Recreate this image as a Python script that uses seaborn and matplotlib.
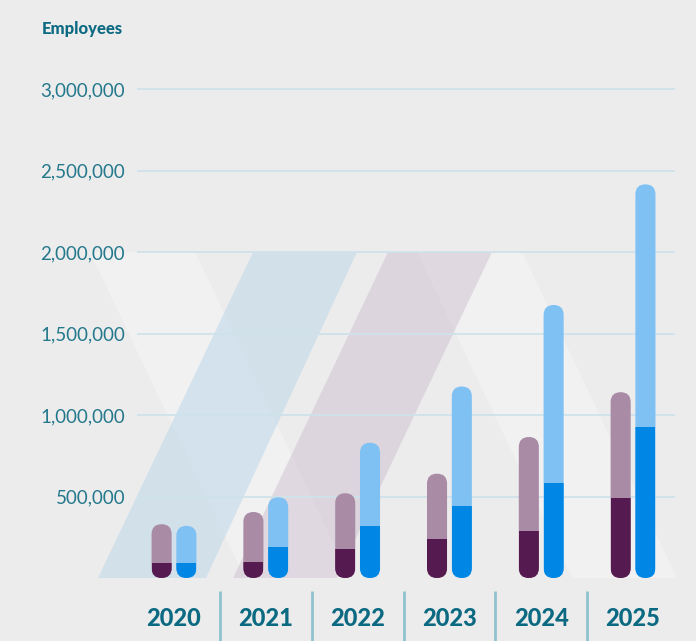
import numpy as np
import pandas as pd
import matplotlib
matplotlib.use("Agg")
import matplotlib.pyplot as plt
import seaborn as sns
from matplotlib.patches import FancyBboxPatch, Polygon, BoxStyle

# ---------------- data ----------------
years = ["2020", "2021", "2022", "2023", "2024", "2025"]
series = ["Series 1", "Series 2"]
s1_total = [330000, 405000, 520000, 640000, 865000, 1140000]
s1_base = [95000, 100000, 180000, 240000, 290000, 490000]
s2_total = [320000, 495000, 830000, 1175000, 1675000, 2415000]
s2_base = [95000, 190000, 320000, 440000, 585000, 925000]
yticks = [500000, 1000000, 1500000, 2000000, 2500000, 3000000]
title = "Employees"

light_colors = ["#a98ba6", "#80c1f3"]
dark_colors = ["#551a50", "#0087e5"]
bg = "#ececec"
teal_dark = "#0b6a82"
teal_light = "#24788c"

sns.set_theme(style="white")
plt.rcParams["font.family"] = ["Lato", "DejaVu Sans"]

fig = plt.figure(figsize=(6.96, 6.41), dpi=100, facecolor=bg)
ax = fig.add_axes([137 / 696, 63 / 641, 538 / 696, 505.3 / 641])
ax.set_facecolor("none")

df = pd.DataFrame({
    "year": years * 2,
    "series": [series[0]] * len(years) + [series[1]] * len(years),
    "total": s1_total + s2_total,
    "base": s1_base + s2_base,
})

sns.barplot(data=df, x="year", y="total", hue="series", hue_order=series,
            palette=light_colors, width=0.54, gap=0.19, saturation=1,
            errorbar=None, legend=False, linewidth=0, ax=ax)
n_light = len(ax.patches)
sns.barplot(data=df, x="year", y="base", hue="series", hue_order=series,
            palette=dark_colors, width=0.54, gap=0.19, saturation=1,
            errorbar=None, legend=False, linewidth=0, ax=ax)

ax.set_xlim(-0.403, 5.457)
ax.set_ylim(0, 3.1e6)

# aspect for circular rounding in display space
p0 = ax.transData.transform((0, 0))
p1 = ax.transData.transform((1, 1e6))
aspect = (p1[0] - p0[0]) * 1e6 / (p1[1] - p0[1])

patches = list(ax.patches)
light = patches[:n_light]
dark = patches[n_light:]
pills = {}
for r in light:
    x, w, h = r.get_x(), r.get_width(), r.get_height()
    pill = FancyBboxPatch((x, 0), w, h,
                          boxstyle=BoxStyle.Round(pad=0, rounding_size=w / 2),
                          mutation_aspect=aspect, facecolor=r.get_facecolor(),
                          edgecolor="none", zorder=2)
    ax.add_patch(pill)
    pills[round(x + w / 2, 3)] = pill
    r.remove()
for r in dark:
    key = round(r.get_x() + r.get_width() / 2, 3)
    r.set_clip_path(pills[key])
    r.set_zorder(3)
    r.set_linewidth(0)

# decorative background bands (top at 2,000,000 level, bottom at 0)
top = 2.0e6
bands = [
    ("white", 0.3, (-0.915, 0.229), (0.773, 1.917)),
    ("white", 0.3, (2.647, 3.791), (4.336, 5.479)),
    ("#b9d5ea", 0.5, (0.861, 1.993), (-0.828, 0.349)),
    ("#cec0d0", 0.5, (2.331, 3.464), (0.643, 1.776)),
]
for col, a, (tl, tr), (bl, br) in bands:
    poly = Polygon([(tl, top), (tr, top), (br, 0), (bl, 0)], closed=True,
                   facecolor=col, edgecolor="none", alpha=a, zorder=0.1,
                   clip_on=False)
    ax.add_patch(poly)

# grid & ticks
ax.set_axisbelow(True)
ax.yaxis.grid(True, color="#cfe2ea", linewidth=1.3)
ax.xaxis.grid(False)
ax.set_yticks(yticks)
ax.set_yticklabels([f"{v:,}" for v in yticks], fontsize=13.5, fontweight="normal",
                   color=teal_light)
ax.set_xticks(range(len(years)))
ax.set_xticklabels(years, fontsize=17, fontweight="black", color=teal_dark)
ax.tick_params(axis="y", length=0, pad=8.6, labelcolor=teal_light)
ax.tick_params(axis="x", length=0, pad=21, labelcolor=teal_dark)
ax.set_xlabel("")
ax.set_ylabel("")
for s in ax.spines.values():
    s.set_visible(False)

# separators between years
for i in range(len(years) - 1):
    ax.plot([i + 0.5, i + 0.5], [-80000, -420000], color="#8fc3ce", lw=2,
            clip_on=False, solid_capstyle="butt")

fig.text(42 / 696, 1 - 29 / 641, title, ha="left", va="center", fontsize=12,
         fontweight="black", color=teal_dark)

fig.savefig("out.png", dpi=100, facecolor=bg)
